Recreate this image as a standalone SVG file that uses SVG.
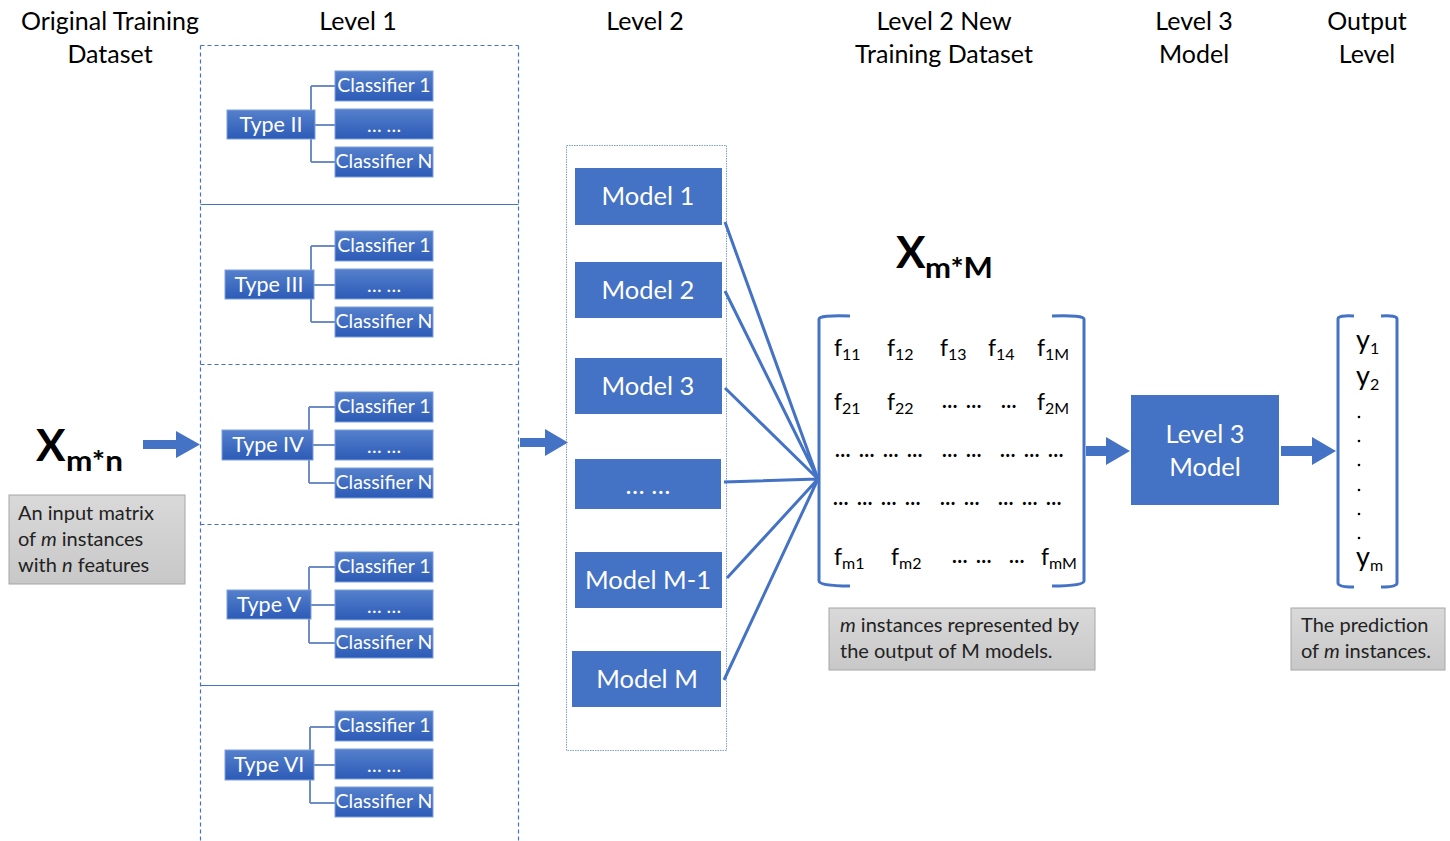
<svg xmlns="http://www.w3.org/2000/svg" width="1450" height="841" viewBox="0 0 1450 841">
<defs>
<linearGradient id="gb" x1="0" y1="0" x2="0" y2="1"><stop offset="0" stop-color="#5580CC"/><stop offset="1" stop-color="#2C5BB7"/></linearGradient>
<linearGradient id="gg" x1="0" y1="0" x2="0" y2="1"><stop offset="0" stop-color="#D9D9D9"/><stop offset="1" stop-color="#C8C8C8"/></linearGradient>
<style>
text{font-family:Lato,"Liberation Sans",sans-serif;}
.h{font-size:25px;fill:#000;text-anchor:middle;}
.dash{fill:none;stroke:#4472C4;stroke-width:1.2;stroke-dasharray:4 3;}
.sol{stroke:#4472C4;stroke-width:1.2;}
.tb{fill:url(#gb);stroke:#7FA0DC;stroke-width:1;}
.tt{fill:#fff;font-size:21.5px;text-anchor:middle;}
.ct{fill:#fff;font-size:19.5px;text-anchor:middle;}
.tree{fill:none;stroke:#6E8CC6;stroke-width:2;}
.mb{fill:#4472C4;}
.mt{fill:#fff;font-size:25.5px;text-anchor:middle;}
.gray{fill:url(#gg);stroke:#A6A6A6;stroke-width:1;}
.gt{fill:#222;font-size:20px;}
.br{fill:none;stroke:#4472C4;stroke-width:3;}
.ln{stroke:#4472C4;stroke-width:3;fill:none;}
.arr{fill:#4472C4;}
.f{font-size:23px;fill:#000;}
.fs{font-size:16px;}
.y{font-size:27px;fill:#000;}
.dots{font-size:20px;fill:#000;font-weight:bold;}
</style>
</defs>

<g id="headers">
<text class="h" x="110" y="30">Original Training</text>
<text class="h" x="110" y="63">Dataset</text>
<text class="h" x="358" y="30">Level 1</text>
<text class="h" x="645" y="30">Level 2</text>
<text class="h" x="944" y="30">Level 2 New</text>
<text class="h" x="944" y="63">Training Dataset</text>
<text class="h" x="1194" y="30">Level 3</text>
<text class="h" x="1194" y="63">Model</text>
<text class="h" x="1367" y="30">Output</text>
<text class="h" x="1367" y="63">Level</text>
</g>

<g id="input">
<text x="36" y="461" font-size="44" font-weight="bold" fill="#000">X</text>
<text x="66" y="471" font-size="28" font-weight="bold" fill="#000" textLength="57" lengthAdjust="spacingAndGlyphs">m*n</text>
<rect class="gray" x="9" y="495" width="176" height="89"/>
<text class="gt" x="18" y="520">An input matrix</text>
<text class="gt" x="18" y="546">of <tspan font-style="italic">m</tspan> instances</text>
<text class="gt" x="18" y="572">with <tspan font-style="italic">n</tspan> features</text>
</g>

<g id="level1-frame">
<path class="dash" d="M200.5,45.5 H518.5 M200.5,45.5 V841 M518.5,45.5 V841 M200.5,364.5 H518.5 M200.5,524.5 H518.5"/>
<path class="sol" d="M200.5,204.5 H518.5 M200.5,685.5 H518.5"/>
</g>

<g id="type-II">
<path class="tree" d="M311,86 V162 M311,86 H335 M311,162 H335 M311,125 H335"/>
<rect class="tb" x="227" y="110" width="88" height="29"/>
<text class="tt" x="271" y="132">Type II</text>
<rect class="tb" x="335" y="71" width="98" height="30"/><text class="ct" x="384" y="92">Classifier 1</text>
<rect class="tb" x="335" y="109" width="98" height="30"/><text class="ct" x="384" y="132">… …</text>
<rect class="tb" x="335" y="147" width="98" height="30"/><text class="ct" x="384" y="168">Classifier N</text>
</g>

<g id="type-III">
<path class="tree" d="M311,246 V322 M311,246 H335 M311,322 H335 M311,285 H335"/>
<rect class="tb" x="225" y="270" width="89" height="29"/>
<text class="tt" x="269" y="292">Type III</text>
<rect class="tb" x="335" y="231" width="98" height="30"/><text class="ct" x="384" y="252">Classifier 1</text>
<rect class="tb" x="335" y="269" width="98" height="30"/><text class="ct" x="384" y="292">… …</text>
<rect class="tb" x="335" y="307" width="98" height="30"/><text class="ct" x="384" y="328">Classifier N</text>
</g>

<g id="type-IV">
<path class="tree" d="M309,407 V483 M309,407 H335 M309,483 H335 M309,445 H335"/>
<rect class="tb" x="222" y="430" width="91" height="30"/>
<text class="tt" x="268" y="452">Type IV</text>
<rect class="tb" x="335" y="392" width="98" height="30"/><text class="ct" x="384" y="413">Classifier 1</text>
<rect class="tb" x="335" y="430" width="98" height="30"/><text class="ct" x="384" y="453">… …</text>
<rect class="tb" x="335" y="468" width="98" height="30"/><text class="ct" x="384" y="489">Classifier N</text>
</g>

<g id="type-V">
<path class="tree" d="M309,567 V643 M309,567 H335 M309,643 H335 M309,605 H335"/>
<rect class="tb" x="227" y="590" width="84" height="29"/>
<text class="tt" x="269" y="612">Type V</text>
<rect class="tb" x="335" y="552" width="98" height="30"/><text class="ct" x="384" y="573">Classifier 1</text>
<rect class="tb" x="335" y="590" width="98" height="30"/><text class="ct" x="384" y="613">… …</text>
<rect class="tb" x="335" y="628" width="98" height="30"/><text class="ct" x="384" y="649">Classifier N</text>
</g>

<g id="type-VI">
<path class="tree" d="M310,727 V803 M310,727 H335 M310,803 H335 M310,765 H335"/>
<rect class="tb" x="225" y="750" width="89" height="30"/>
<text class="tt" x="269" y="772">Type VI</text>
<rect class="tb" x="335" y="711" width="98" height="30"/><text class="ct" x="384" y="732">Classifier 1</text>
<rect class="tb" x="335" y="749" width="98" height="30"/><text class="ct" x="384" y="772">… …</text>
<rect class="tb" x="335" y="787" width="98" height="30"/><text class="ct" x="384" y="808">Classifier N</text>
</g>

<g id="level2">
<rect x="566.5" y="145.5" width="160" height="605" fill="none" stroke="#7F9FD6" stroke-width="1" stroke-dasharray="1.5 1"/>
<g id="model-1"><rect class="mb" x="575" y="168" width="147" height="57"/><text class="mt" x="648" y="205">Model 1</text></g>
<g id="model-2"><rect class="mb" x="575" y="262" width="147" height="56"/><text class="mt" x="648" y="299">Model 2</text></g>
<g id="model-3"><rect class="mb" x="575" y="358" width="147" height="56"/><text class="mt" x="648" y="395">Model 3</text></g>
<g id="model-dots"><rect class="mb" x="575" y="459" width="146" height="50"/><text class="mt" x="648" y="494">… …</text></g>
<g id="model-M-1"><rect class="mb" x="575" y="552" width="147" height="56"/><text class="mt" x="648" y="589">Model M-1</text></g>
<g id="model-M"><rect class="mb" x="572" y="651" width="149" height="56"/><text class="mt" x="647" y="688">Model M</text></g>
</g>

<g id="connectors">
<polygon class="arr" points="143,440 176,440 176,431 200,444.5 176,458 176,449 143,449"/>
<polygon class="arr" points="520,438 545,438 545,429 568,442.5 545,456 545,447 520,447"/>
<path class="ln" d="M725,222 L818,479 M725,291 L818,479 M725,388 L818,479 M724,482 L818,479 M727,578 L818,479 M724,680 L818,479"/>
<polygon class="arr" points="1086,446 1106,446 1106,437 1130,451 1106,465 1106,456 1086,456"/>
<polygon class="arr" points="1281,446 1312,446 1312,437 1336,451 1312,465 1312,456 1281,456"/>
</g>

<g id="matrix">
<text x="896" y="268" font-size="44" font-weight="bold" fill="#000">X</text>
<text x="925" y="278" font-size="28" font-weight="bold" fill="#000" textLength="68" lengthAdjust="spacingAndGlyphs">m*M</text>
<path class="br" d="M850,316 Q819,315 819,319 V581 Q819,586 850,586"/>
<path class="br" d="M1052,316 Q1084,315 1084,319 V581 Q1084,586 1052,586"/>
<text class="f" x="834" y="356">f<tspan class="fs" dy="4">11</tspan></text>
<text class="f" x="887" y="356">f<tspan class="fs" dy="4">12</tspan></text>
<text class="f" x="940" y="356">f<tspan class="fs" dy="4">13</tspan></text>
<text class="f" x="988" y="356">f<tspan class="fs" dy="4">14</tspan></text>
<text class="f" x="1037" y="356">f<tspan class="fs" dy="4">1M</tspan></text>
<text class="f" x="834" y="410">f<tspan class="fs" dy="4">21</tspan></text>
<text class="f" x="887" y="410">f<tspan class="fs" dy="4">22</tspan></text>
<text class="dots" x="942 966 1001" y="408">………</text>
<text class="f" x="1037" y="410">f<tspan class="fs" dy="4">2M</tspan></text>
<text class="dots" x="835 859 883 907 942 966 1000 1024 1048" y="457">………………………</text>
<text class="dots" x="833 857 881 905 940 964 998 1022 1046" y="505">………………………</text>
<text class="f" x="834" y="565">f<tspan class="fs" dy="4">m1</tspan></text>
<text class="f" x="891" y="565">f<tspan class="fs" dy="4">m2</tspan></text>
<text class="dots" x="952 976 1009" y="563">………</text>
<text class="f" x="1041" y="565">f<tspan class="fs" dy="4">mM</tspan></text>
<rect class="gray" x="829" y="608" width="266" height="62"/>
<text class="gt" x="840" y="632"><tspan font-style="italic">m</tspan> instances represented by</text>
<text class="gt" x="840" y="658">the output of M models.</text>
</g>

<g id="level3">
<rect class="mb" x="1131" y="395" width="148" height="110"/>
<text class="mt" x="1205" y="443">Level 3</text>
<text class="mt" x="1205" y="476">Model</text>
</g>

<g id="output">
<path class="br" d="M1354,316 Q1338,315 1338,319 V583 Q1338,587 1354,587"/>
<path class="br" d="M1381,316 Q1397,315 1397,319 V583 Q1397,587 1381,587"/>
<text class="y" x="1356" y="349">y<tspan class="fs" dy="5">1</tspan></text>
<text class="y" x="1356" y="385">y<tspan class="fs" dy="5">2</tspan></text>
<g fill="#000"><circle cx="1359" cy="417" r="1.3"/><circle cx="1359" cy="441" r="1.3"/><circle cx="1359" cy="465" r="1.3"/><circle cx="1359" cy="490" r="1.3"/><circle cx="1359" cy="514" r="1.3"/><circle cx="1359" cy="538" r="1.3"/></g>
<text class="y" x="1356" y="566">y<tspan class="fs" dy="5">m</tspan></text>
<rect class="gray" x="1291" y="608" width="154" height="62"/>
<text class="gt" x="1301" y="632">The prediction</text>
<text class="gt" x="1301" y="658">of <tspan font-style="italic">m</tspan> instances.</text>
</g>
</svg>
